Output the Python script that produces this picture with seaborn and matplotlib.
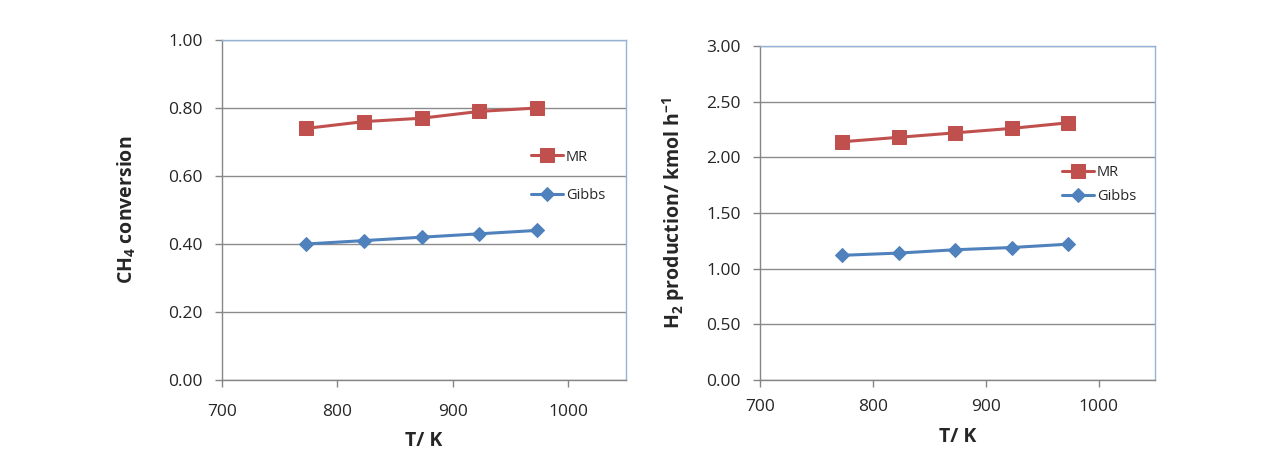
import matplotlib
matplotlib.use("Agg")
import matplotlib.pyplot as plt
import seaborn as sns
import pandas as pd

temps = [773, 823, 873, 923, 973]
conv_mr = [0.74, 0.76, 0.77, 0.79, 0.80]
conv_gibbs = [0.40, 0.41, 0.42, 0.43, 0.44]
h2_mr = [2.14, 2.18, 2.22, 2.26, 2.31]
h2_gibbs = [1.12, 1.14, 1.17, 1.19, 1.22]
series = ["MR", "Gibbs"]
x_ticks = [700, 800, 900, 1000]
conv_ticks = [0.0, 0.2, 0.4, 0.6, 0.8, 1.0]
h2_ticks = [0.0, 0.5, 1.0, 1.5, 2.0, 2.5, 3.0]

sns.set_style("white")
plt.rcParams["font.family"] = ["Open Sans", "DejaVu Sans"]
plt.rcParams["mathtext.fontset"] = "custom"
plt.rcParams["mathtext.rm"] = "Open Sans"
plt.rcParams["mathtext.bf"] = "Open Sans:bold"

palette = {"MR": "#C0504D", "Gibbs": "#4F81BD"}
markers = {"MR": "s", "Gibbs": "D"}
sizes = {"MR": 9.5, "Gibbs": 7}

fig = plt.figure(figsize=(12.64, 4.66), dpi=100)
ax1 = fig.add_axes([222/1264, 1-380/466, 404/1264, 340/466])
ax2 = fig.add_axes([760/1264, 1-380/466, 395/1264, 334/466])

def make_df(mr, gb):
    return pd.DataFrame({
        "T": temps * 2,
        "v": list(mr) + list(gb),
        "series": ["MR"] * len(temps) + ["Gibbs"] * len(temps),
    })

def draw(ax, df, yticks, ylabel, leg_xy, spacing, ylabelpad, xpad):
    for s in series:
        sub = df[df["series"] == s]
        sns.lineplot(data=sub, x="T", y="v", ax=ax, color=palette[s],
                     marker=markers[s], markersize=sizes[s],
                     markeredgecolor=palette[s], linewidth=2.2,
                     label=s, zorder=3)
    ax.set_xlim(700, 1050)
    ax.set_ylim(yticks[0], yticks[-1])
    ax.set_xticks(x_ticks)
    ax.set_yticks(yticks)
    ax.set_yticklabels([f"{t:.2f}" for t in yticks])
    ax.grid(axis="y", color="#8C8C8C", linewidth=1.0)
    ax.set_axisbelow(True)
    for side in ["top", "right"]:
        ax.spines[side].set_color("#95B3D7")
        ax.spines[side].set_linewidth(1.0)
    for side in ["left", "bottom"]:
        ax.spines[side].set_color("#868686")
        ax.spines[side].set_linewidth(1.0)
    ax.tick_params(axis="both", which="major", length=5, width=1,
                   color="#868686", labelsize=12.5, labelcolor="#262626",
                   direction="out", bottom=True, left=True)
    ax.tick_params(axis="x", pad=xpad)
    ax.tick_params(axis="y", pad=9)
    ax.set_xlabel("T/ K", fontsize=14, fontweight="bold", labelpad=8)
    ax.set_ylabel(ylabel, fontsize=14, fontweight="bold", labelpad=ylabelpad)
    h, l = ax.get_legend_handles_labels()
    ax.legend(h, l, loc="upper left", bbox_to_anchor=leg_xy, frameon=False,
              fontsize=10.5, handlelength=2.2, handletextpad=0.2,
              labelspacing=spacing, borderaxespad=0)

draw(ax1, make_df(conv_mr, conv_gibbs), conv_ticks,
     r"CH$_\mathbf{4}$ conversion", (0.75, 0.695), 1.6, 22, 12)
draw(ax2, make_df(h2_mr, h2_gibbs), h2_ticks,
     r"H$_\mathbf{2}$ production/ kmol h$^\mathbf{-1}$", (0.75, 0.66), 0.6, 14, 9)

fig.savefig("out.png", dpi=100)
